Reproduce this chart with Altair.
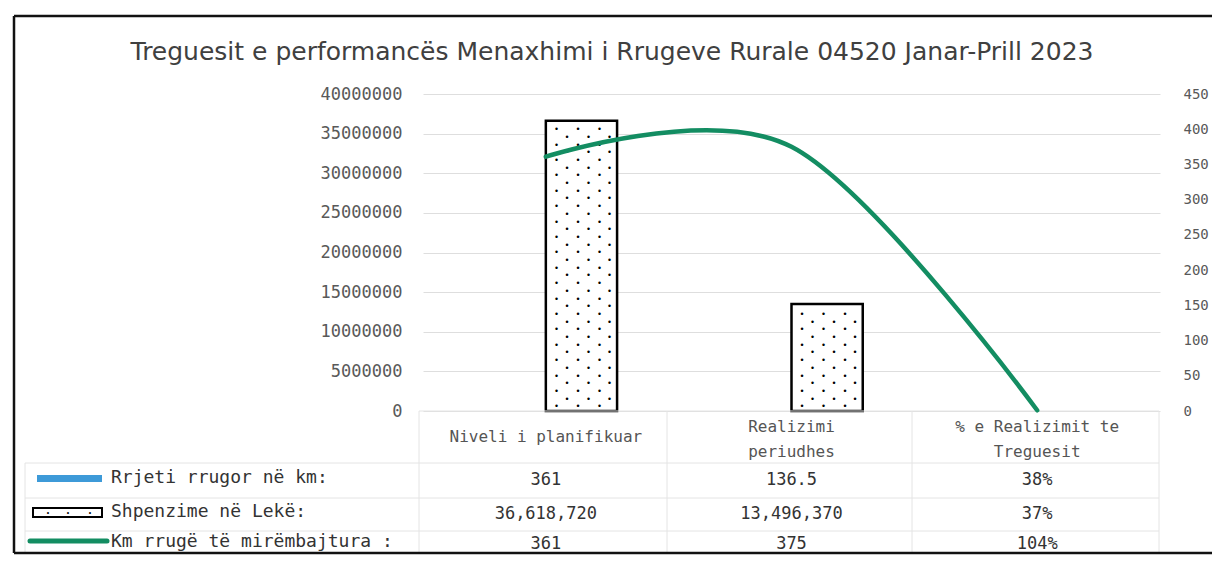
import altair as alt
import pandas as pd

TITLE = "Treguesit e performancës Menaxhimi i Rrugeve Rurale 04520 Janar-Prill 2023"
CATEGORIES = ["Niveli i planifikuar", "Realizimi\nperiudhes", "% e Realizimit te\nTreguesit"]
SERIES = ["Rrjeti rrugor në km:", "Shpenzime në Lekë:", "Km rrugë të mirëmbajtura :"]
RRJETI_KM = [361, 136.5, 0.38]
SHPENZIME_LEKE = [36618720, 13496370, 0.37]
KM_MIREMBAJTURA = [361, 375, 1.04]
RRJETI_TXT = ["361", "136.5", "38%"]
SHPENZIME_TXT = ["36,618,720", "13,496,370", "37%"]
KM_TXT = ["361", "375", "104%"]
LEFT_TICKS = [0, 5000000, 10000000, 15000000, 20000000, 25000000, 30000000, 35000000, 40000000]
RIGHT_TICKS = [0, 50, 100, 150, 200, 250, 300, 350, 400, 450]

# ---- layout / style constants ----
W, H = 737, 317
BLUE = "#3d9ad8"
GREEN = "#138d62"
GRID = "#dedede"
TABLE_LINE = "#e4e4e4"
MONO = "DejaVu Sans Mono"
SANS = "DejaVu Sans"

bars_df = pd.DataFrame({
    "category": CATEGORIES * 2,
    "series": [SERIES[0]] * 3 + [SERIES[1]] * 3,
    "value": RRJETI_KM + SHPENZIME_LEKE,
})
line_df = pd.DataFrame({"category": CATEGORIES, "value": KM_MIREMBAJTURA})
table_df = pd.DataFrame({
    "category": CATEGORIES * 3,
    "series": [SERIES[0]] * 3 + [SERIES[1]] * 3 + [SERIES[2]] * 3,
    "label": RRJETI_TXT + SHPENZIME_TXT + KM_TXT,
})
ONE = pd.DataFrame({"k": [0]})

xscale = alt.Scale(domain=CATEGORIES, paddingInner=0.42, paddingOuter=0.21)
xoff_scale = alt.Scale(domain=SERIES[:2], paddingInner=0, paddingOuter=0)
yleft_scale = alt.Scale(domain=[0, 40000000], nice=False)

left_axis = alt.Axis(values=LEFT_TICKS, format="d", orient="left", title=None,
                     domain=False, ticks=False, labelPadding=21, labelFont=MONO,
                     labelFontSize=17, labelColor="#595959", grid=True,
                     gridColor=GRID, gridWidth=1)
right_axis = alt.Axis(values=RIGHT_TICKS, orient="right", title=None,
                      domain=False, ticks=False, labelPadding=23, labelFont=MONO,
                      labelFontSize=14, labelColor="#595959", grid=False)

X = alt.X("category:N", scale=xscale, axis=None, sort=CATEGORIES)

bars = alt.Chart(bars_df).mark_bar(strokeWidth=2.5).encode(
    x=X,
    xOffset=alt.XOffset("series:N", scale=xoff_scale),
    y=alt.Y("value:Q", scale=yleft_scale, axis=left_axis),
    fill=alt.Fill("series:N", scale=alt.Scale(domain=SERIES[:2], range=[BLUE, "white"]), legend=None),
    stroke=alt.Stroke("series:N", scale=alt.Scale(domain=SERIES[:2], range=[BLUE, "black"]), legend=None),
    strokeOpacity=alt.condition("datum.value < 1000", alt.value(0), alt.value(1)),
)

# dotted pattern inside the expense bars
STEP = 40000000 / H * 7.7
dot_layers = []
for parity, offsets in [(0, [-25, -3.5, 18]), (1, [-14.5, 7, 28])]:
    for dx in offsets:
        d = alt.Chart(bars_df).transform_filter(
            alt.datum.series == SERIES[1]
        ).transform_calculate(
            r="sequence(0, 60)"
        ).transform_flatten(["r"]).transform_calculate(
            dv=f"(datum.r + 0.6) * {STEP}"
        ).transform_filter(
            f"datum.dv < datum.value - {STEP * 0.4} && datum.r % 2 == {parity}"
        ).mark_text(text="•", fontSize=8.5, color="black", dx=dx, baseline="middle", font=SANS).encode(
            x=X,
            xOffset=alt.XOffset("series:N", scale=xoff_scale),
            y=alt.Y("dv:Q", scale=yleft_scale, axis=left_axis),
        )
        dot_layers.append(d)


def hrule(x1, x2, y, color=TABLE_LINE, width=1):
    return alt.Chart(ONE).mark_rule(color=color, strokeWidth=width).encode(
        x=alt.value(x1), x2=alt.value(x2), y=alt.value(y))


def vrule(x, y1, y2, color=TABLE_LINE, width=1):
    return alt.Chart(ONE).mark_rule(color=color, strokeWidth=width).encode(
        x=alt.value(x), y=alt.value(y1), y2=alt.value(y2))


RIGHT_EDGE = 1204 - 415
FRAME_TOP, FRAME_LEFT, FRAME_BOTTOM = -78, -409, 459
LEG_LEFT = -398
HDR_TOP, HDR_BOTTOM, ROW1_BOTTOM, ROW2_BOTTOM = 317, 369, 404, 437
COL_EDGES = [-4, 244, 489, 736]

deco = [
    hrule(COL_EDGES[0], COL_EDGES[-1], HDR_TOP),
    hrule(LEG_LEFT, COL_EDGES[-1], HDR_BOTTOM),
    hrule(LEG_LEFT, COL_EDGES[-1], ROW1_BOTTOM),
    hrule(LEG_LEFT, COL_EDGES[-1], ROW2_BOTTOM),
    vrule(LEG_LEFT, HDR_BOTTOM, FRAME_BOTTOM),
] + [vrule(cx, HDR_TOP, FRAME_BOTTOM) for cx in COL_EDGES]

frame = [
    hrule(FRAME_LEFT, RIGHT_EDGE, FRAME_TOP, "#111111", 2.5),
    hrule(FRAME_LEFT, RIGHT_EDGE, FRAME_BOTTOM, "#111111", 2.5),
    vrule(FRAME_LEFT, FRAME_TOP, FRAME_BOTTOM, "#111111", 2.5),
]

title = alt.Chart(pd.DataFrame({"t": [TITLE]})).mark_text(
    fontSize=25, font=SANS, color="#404040", baseline="middle"
).encode(x=alt.value(189), y=alt.value(-42), text="t:N")

header_base = alt.Chart(pd.DataFrame({"category": CATEGORIES}))
header_single = header_base.transform_filter(
    "indexof(datum.category, '\\n') < 0"
).mark_text(
    lineBreak="\n", baseline="middle", font=MONO, fontSize=16, color="#555555"
).encode(x=X, y=alt.value(343), text="category:N")
header_multi = header_base.transform_filter(
    "indexof(datum.category, '\\n') >= 0"
).mark_text(
    lineBreak="\n", lineHeight=25, baseline="middle", font=MONO, fontSize=16, color="#555555"
).encode(x=X, y=alt.value(333), text="category:N")

ROW_Y = [386, 420, 450]
cells = []
for i, s in enumerate(SERIES):
    cells.append(
        alt.Chart(table_df[table_df.series == s]).mark_text(
            baseline="middle", font=MONO, fontSize=17, color="#333333"
        ).encode(x=X, y=alt.value(ROW_Y[i]), text="label:N")
    )

# legend keys and labels (left column of the data table)
LEG_TEXT_X = -312
legend = [
    alt.Chart(ONE).mark_rect(color=BLUE).encode(
        x=alt.value(-386), x2=alt.value(-321), y=alt.value(ROW_Y[0] - 5), y2=alt.value(ROW_Y[0] + 2)),
    alt.Chart(ONE).mark_rect(fill="white", stroke="black", strokeWidth=2).encode(
        x=alt.value(-390), x2=alt.value(-321), y=alt.value(ROW_Y[1] - 6), y2=alt.value(ROW_Y[1] + 3)),
    alt.Chart(ONE).mark_rule(color=GREEN, strokeWidth=5, strokeCap="round").encode(
        x=alt.value(-393), x2=alt.value(-316), y=alt.value(ROW_Y[2] - 3)),
]
for kx in [-375, -355, -333]:
    legend.append(alt.Chart(ONE).mark_text(text="•", fontSize=7, color="black", baseline="middle").encode(
        x=alt.value(kx), y=alt.value(ROW_Y[1] - 1.5)))
for i, s in enumerate(SERIES):
    legend.append(alt.Chart(pd.DataFrame({"s": [s]})).mark_text(
        align="left", baseline="middle", font=MONO, fontSize=18, color="#333333"
    ).encode(x=alt.value(LEG_TEXT_X), y=alt.value(ROW_Y[i] - 2), text="s:N"))

left_layer = alt.layer(bars, *dot_layers, *deco, header_single, header_multi, *cells, *legend, title, *frame)

line = alt.Chart(line_df).mark_line(
    interpolate="cardinal", tension=0, color=GREEN, strokeWidth=4.5, strokeCap="round"
).encode(
    x=X,
    y=alt.Y("value:Q", scale=alt.Scale(domain=[0, 450], nice=False), axis=right_axis),
)

chart = alt.layer(left_layer, line).resolve_scale(y="independent").properties(
    width=W, height=H,
    autosize=alt.AutoSizeParams(type="none"),
    padding={"left": 415, "top": 86, "right": 52, "bottom": 145},
    background="white",
).configure_view(stroke=None)

chart.save("out.html", embed_options={"renderer": "svg", "actions": False})
